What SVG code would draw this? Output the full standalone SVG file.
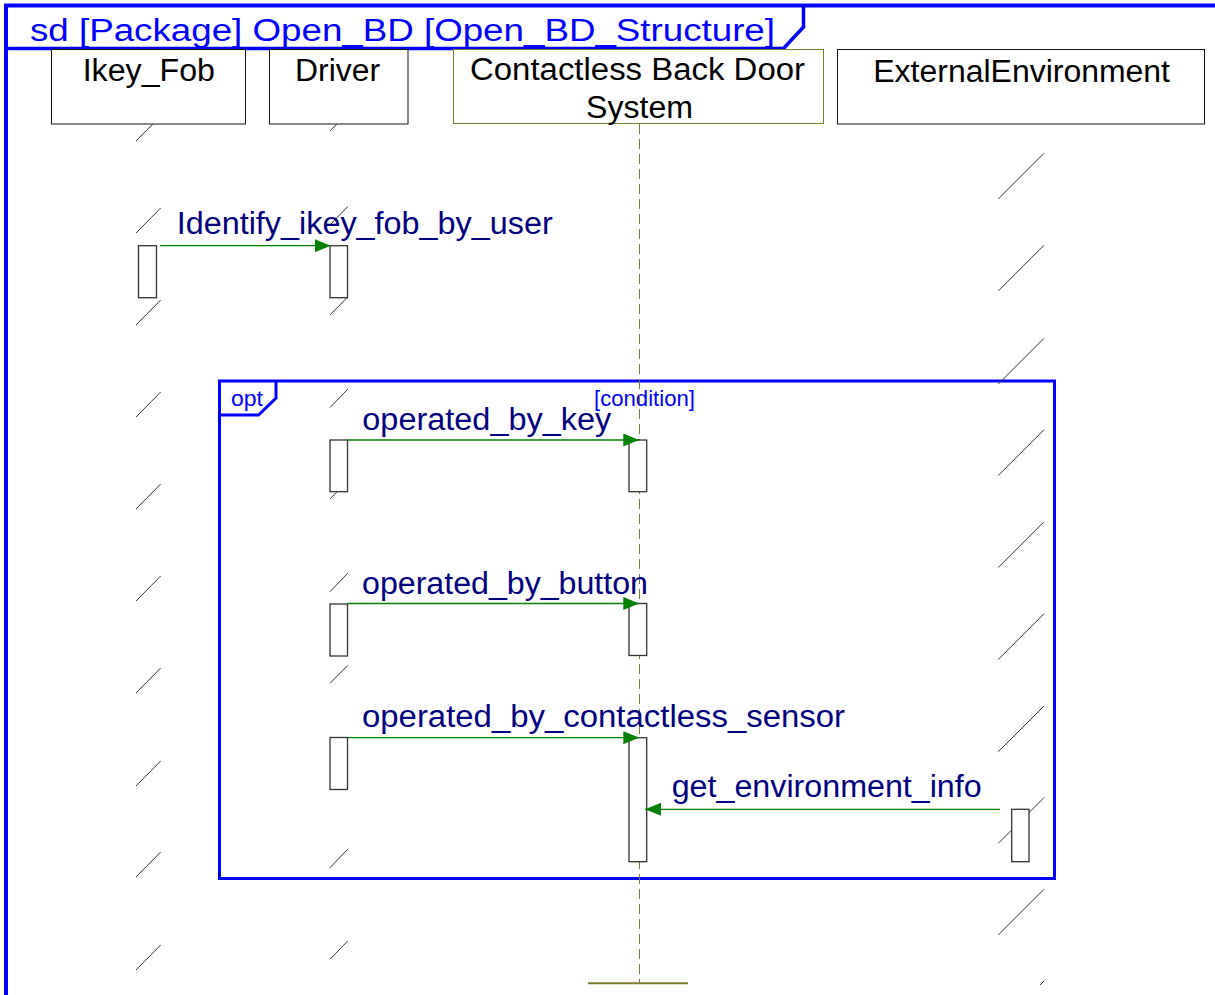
<svg xmlns="http://www.w3.org/2000/svg" width="1215" height="995" viewBox="0 0 1215 995">
<style>
.frame{fill:none;stroke:#0000ff;stroke-width:4}
.hdr{font-family:"Liberation Sans",Arial,sans-serif;font-size:31px;fill:#0000ff}
.head{fill:#fff;stroke:#111;stroke-width:1}
.headc{fill:#fff;stroke:#7a7a30;stroke-width:1}
.name{font-family:"Liberation Sans",Arial,sans-serif;font-size:31px;fill:#000}
.sl{stroke:#333;stroke-width:1}
.act{fill:#fff;stroke:#333;stroke-width:1.3}
.msg{stroke:#008000;stroke-width:1.3;fill:none;marker-end:url(#ah)}
.mtxt{font-family:"Liberation Sans",Arial,sans-serif;font-size:31px;fill:#000080}
.opt{fill:none;stroke:#0000ff;stroke-width:3}
.otxt{font-family:"Liberation Sans",Arial,sans-serif;font-size:22px;fill:#0000ff}
.life{stroke:#7a7a30;stroke-width:1;stroke-dasharray:10 5;fill:none}
</style>
<defs>
<marker id="ah" markerUnits="userSpaceOnUse" markerWidth="16" markerHeight="13" refX="16" refY="6.5" orient="auto">
<path d="M0,0 L16,6.5 L0,13 Z" fill="#008000"/>
</marker>
</defs>
<rect width="1215" height="995" fill="#fff"/>

<g id="frame">
<line x1="4" y1="5.5" x2="1215" y2="5.5" class="frame"/>
<line x1="6" y1="4" x2="6" y2="995" class="frame"/>
<polyline points="6,48.5 783.5,48.5 803.5,27 803.5,5" fill="none" stroke="#0000ff" stroke-width="3.5"/>
<text x="30" y="40.5" class="hdr" textLength="745" lengthAdjust="spacingAndGlyphs">sd [Package] Open_BD [Open_BD_Structure]</text>
</g>

<g id="opt-fragment">
<rect x="219.5" y="381" width="835" height="497.5" class="opt"/>
<polyline points="219.5,415 258.5,415 276,398 276,381" class="opt"/>
<text x="231" y="406" class="otxt" textLength="32" lengthAdjust="spacingAndGlyphs">opt</text>
<text x="594" y="406" class="otxt" textLength="101" lengthAdjust="spacingAndGlyphs">[condition]</text>
</g>

<g id="lifeline-ikey-fob">
<g class="sl">
<line x1="136" y1="141" x2="160.7" y2="116"/>
<line x1="136" y1="233" x2="160.7" y2="208"/>
<line x1="136" y1="325" x2="160.7" y2="300"/>
<line x1="136" y1="417" x2="160.7" y2="392"/>
<line x1="136" y1="509" x2="160.7" y2="484"/>
<line x1="136" y1="601" x2="160.7" y2="576"/>
<line x1="136" y1="693" x2="160.7" y2="668"/>
<line x1="136" y1="786" x2="160.7" y2="761"/>
<line x1="136" y1="877" x2="160.7" y2="852"/>
<line x1="136" y1="970" x2="160.7" y2="945"/>
</g>
<rect x="51.5" y="49.5" width="194" height="74.5" class="head"/>
<text x="82.7" y="81" class="name" textLength="132.3" lengthAdjust="spacingAndGlyphs">Ikey_Fob</text>
<rect x="138.5" y="245.7" width="18" height="52" class="act"/>
</g>

<g id="lifeline-driver">
<g class="sl">
<line x1="330" y1="131" x2="347.7" y2="113"/>
<line x1="330" y1="225" x2="347.7" y2="206.5"/>
<line x1="330" y1="315" x2="347.7" y2="297"/>
<line x1="330" y1="407.5" x2="347.7" y2="389.3"/>
<line x1="330" y1="499" x2="347.7" y2="481"/>
<line x1="330" y1="591.7" x2="347.7" y2="573.3"/>
<line x1="330" y1="683.3" x2="347.7" y2="665.5"/>
<line x1="330" y1="775" x2="347.7" y2="757"/>
<line x1="330" y1="867.7" x2="347.7" y2="849.3"/>
<line x1="330" y1="959.3" x2="347.7" y2="941"/>
</g>
<rect x="269.5" y="49.5" width="138.5" height="74.5" class="head"/>
<text x="295" y="81" class="name" textLength="85" lengthAdjust="spacingAndGlyphs">Driver</text>
<rect x="330" y="245.7" width="17.5" height="52" class="act"/>
<rect x="330" y="440" width="17.5" height="51.7" class="act"/>
<rect x="330" y="604" width="17.5" height="52" class="act"/>
<rect x="330" y="737.5" width="17.5" height="52" class="act"/>
</g>

<g id="lifeline-contactless-back-door-system">
<line x1="639.5" y1="124" x2="639.5" y2="983" class="life"/>
<line x1="588" y1="983.3" x2="688" y2="983.3" stroke="#7a7a30" stroke-width="2"/>
<rect x="453.5" y="49.5" width="370" height="74" class="headc"/>
<text x="470" y="80" class="name" textLength="335" lengthAdjust="spacingAndGlyphs">Contactless Back Door</text>
<text x="586" y="118.3" class="name" textLength="107" lengthAdjust="spacingAndGlyphs">System</text>
<rect x="629" y="440" width="17.7" height="51.7" class="act"/>
<rect x="629" y="603.5" width="17.7" height="52" class="act"/>
<rect x="629" y="737.7" width="17.7" height="124" class="act"/>
</g>

<g id="lifeline-external-environment">
<g class="sl">
<line x1="998.3" y1="199" x2="1044" y2="153.3"/>
<line x1="998.3" y1="291" x2="1044" y2="245.3"/>
<line x1="998.3" y1="384" x2="1044" y2="338.3"/>
<line x1="998.3" y1="475.5" x2="1044" y2="429.8"/>
<line x1="998.3" y1="567.5" x2="1044" y2="521.8"/>
<line x1="998.3" y1="659.5" x2="1044" y2="613.8"/>
<line x1="998.3" y1="751.7" x2="1044" y2="706"/>
<line x1="998.3" y1="843.3" x2="1044" y2="797.6"/>
<line x1="998.3" y1="935" x2="1044" y2="889.3"/>
<line x1="1040" y1="985" x2="1044" y2="981"/>
</g>
<rect x="837.5" y="49.5" width="367" height="74.5" class="head"/>
<text x="873.3" y="81.7" class="name" textLength="296.7" lengthAdjust="spacingAndGlyphs">ExternalEnvironment</text>
<rect x="1011.7" y="809.3" width="17.3" height="52.4" class="act"/>
</g>

<g id="connectors">
<line x1="160" y1="245.7" x2="330.7" y2="245.7" class="msg"/>
<text x="176.7" y="234" class="mtxt" textLength="376" lengthAdjust="spacingAndGlyphs">Identify_ikey_fob_by_user</text>
<line x1="347.7" y1="440" x2="639.3" y2="440" class="msg"/>
<text x="362.3" y="430" class="mtxt" textLength="249" lengthAdjust="spacingAndGlyphs">operated_by_key</text>
<line x1="347.7" y1="603.5" x2="639.3" y2="603.5" class="msg"/>
<text x="362" y="593.5" class="mtxt" textLength="286" lengthAdjust="spacingAndGlyphs">operated_by_button</text>
<line x1="347.7" y1="737.7" x2="639.3" y2="737.7" class="msg"/>
<text x="362" y="727" class="mtxt" textLength="483" lengthAdjust="spacingAndGlyphs">operated_by_contactless_sensor</text>
<line x1="1000" y1="809.3" x2="645" y2="809.3" class="msg"/>
<text x="671.7" y="797" class="mtxt" textLength="310" lengthAdjust="spacingAndGlyphs">get_environment_info</text>
</g>
</svg>
